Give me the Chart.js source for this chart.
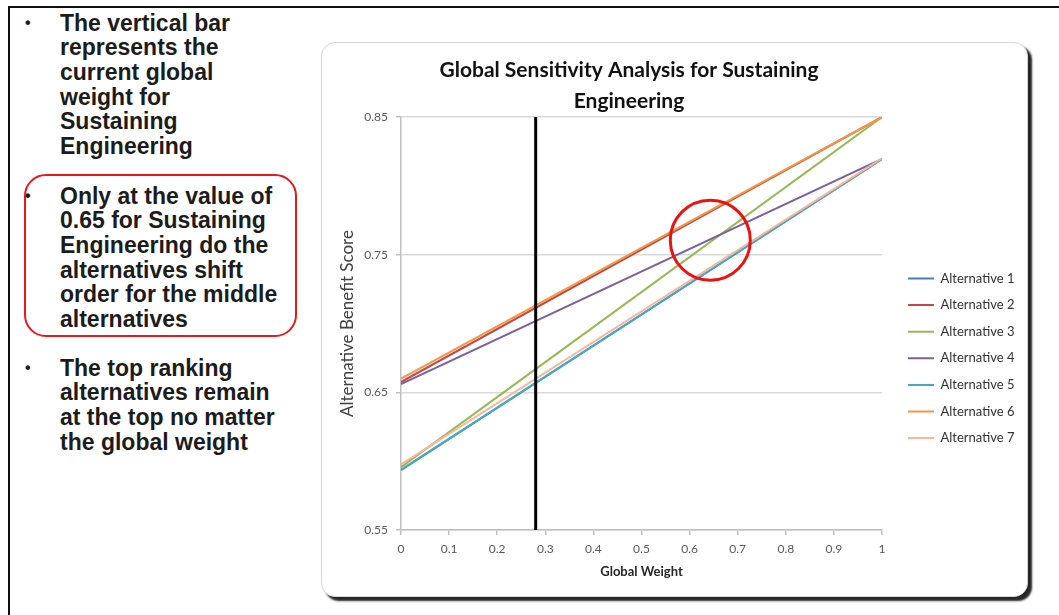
<!DOCTYPE html>
<html>
<head>
<meta charset="utf-8">
<script src="https://cdn.jsdelivr.net/npm/chart.js@4/dist/chart.umd.min.js"></script>
<style>
  html, body { margin:0; padding:0; background:#fff; width:1059px; height:615px; overflow:hidden; }
  body { position:relative; }
  .frame { position:absolute; left:8px; top:6px; width:1200px; height:800px; border-left:2px solid #111; border-top:2px solid #111; }
  .para { position:absolute; left:60px; font:bold 23px/24.7px "Liberation Sans", Arial, sans-serif; color:#1c1c1c; white-space:nowrap; }
  .bul { position:absolute; left:25px; font:bold 16px/24.7px "Liberation Sans", Arial, sans-serif; color:#1c1c1c; }
  .redbox { position:absolute; left:24px; top:174px; width:273px; height:163px; box-sizing:border-box; border:2.5px solid #e8191c; border-radius:22px; }
  .chartbox { position:absolute; left:321px; top:42px; width:707px; height:555px; box-sizing:border-box; border:1.5px solid #d6d6d6; border-radius:14px; background:#fff; box-shadow:4px 4px 2px rgba(0,0,0,0.85); }
  #c { position:absolute; left:321px; top:42px; }
</style>
</head>
<body>
<div class="frame"></div>

<div class="bul" style="top:10.6px">•</div>
<div class="para" style="top:10.6px">The vertical bar<br>represents the<br>current global<br>weight for<br>Sustaining<br>Engineering</div>

<div class="redbox"></div>
<div class="bul" style="top:183.5px">•</div>
<div class="para" style="top:183.5px">Only at the value of<br>0.65 for Sustaining<br>Engineering do the<br>alternatives shift<br>order for the middle<br>alternatives</div>

<div class="bul" style="top:355.7px">•</div>
<div class="para" style="top:355.7px">The top ranking<br>alternatives remain<br>at the top no matter<br>the global weight</div>

<div class="chartbox"></div>
<canvas id="c" width="707" height="555"></canvas>

<script>
// ---- data ----
const WEIGHTS = [0, 1];
const ALT_NAMES = ['Alternative 1', 'Alternative 2', 'Alternative 3', 'Alternative 4', 'Alternative 5', 'Alternative 6', 'Alternative 7'];
const ALT1 = [0.5935, 0.8195];
const ALT2 = [0.6575, 0.850];
const ALT3 = [0.5957, 0.850];
const ALT4 = [0.6560, 0.8195];
const ALT5 = [0.5938, 0.8195];
const ALT6 = [0.6600, 0.850];
const ALT7 = [0.5976, 0.8200];
const ALT_COLORS = ['#4a7ebb', '#be4b48', '#98b954', '#7d60a0', '#46aac5', '#f59647', '#f8b79c'];
const X_TICKS = [0, 0.1, 0.2, 0.3, 0.4, 0.5, 0.6, 0.7, 0.8, 0.9, 1];
const Y_TICKS = [0.55, 0.65, 0.75, 0.85];
const CURRENT_WEIGHT = 0.28;
const SHIFT_POINT = { x: 0.643, y: 0.7605 };
const TITLE_LINES = ['Global Sensitivity Analysis for Sustaining', 'Engineering'];
const X_TITLE = 'Global Weight';
const Y_TITLE = 'Alternative Benefit Score';

const ALT_VALUES = [ALT1, ALT2, ALT3, ALT4, ALT5, ALT6, ALT7];
const N = ALT_NAMES.length;

const datasets = ALT_NAMES.map((name, i) => ({
  label: name,
  data: WEIGHTS.map((w, j) => ({ x: w, y: ALT_VALUES[i][j] })),
  borderColor: ALT_COLORS[i],
  backgroundColor: ALT_COLORS[i],
  borderWidth: 2,
  pointRadius: 0,
  order: 20 - i
}));
datasets.push({
  label: 'Current weight',
  data: [{ x: CURRENT_WEIGHT, y: Y_TICKS[0] }, { x: CURRENT_WEIGHT, y: Y_TICKS[Y_TICKS.length - 1] }],
  borderColor: '#000', backgroundColor: '#000', borderWidth: 3, pointRadius: 0, order: 1
});
datasets.push({
  label: 'Shift',
  data: [SHIFT_POINT],
  showLine: false,
  pointRadius: 40,
  pointBorderWidth: 3,
  pointBorderColor: '#ee1111',
  pointBackgroundColor: 'rgba(0,0,0,0)',
  borderColor: '#ee1111', backgroundColor: 'rgba(0,0,0,0)',
  order: 0
});

const TITLE_CX = 308;      // title centre in canvas px
const LEGEND_GAP = 26;     // chart area -> legend line start
const LEGEND_ROW0 = 230;   // top of first legend row

const placeBlocks = {
  id: 'placeBlocks',
  afterLayout(chart) {
    const ca = chart.chartArea;
    const tb = chart.titleBlock;
    if (tb) { const w = tb.right - tb.left; tb.left = TITLE_CX - w / 2; tb.right = tb.left + w; }
    const lg = chart.legend;
    if (lg) {
      const pad = lg.options.labels.padding;
      const w = lg.width, h = lg.height;
      lg.left = ca.right + LEGEND_GAP - pad; lg.right = lg.left + w;
      lg.top = LEGEND_ROW0 - pad; lg.bottom = lg.top + h;
    }
  }
};

new Chart(document.getElementById('c'), {
  type: 'line',
  data: { datasets },
  plugins: [placeBlocks],
  options: {
    responsive: false,
    animation: false,
    events: [],
    layout: { padding: { left: 0, top: 0, right: 146, bottom: 0 } },
    plugins: {
      tooltip: { enabled: false },
      title: {
        display: true, text: TITLE_LINES, color: '#111',
        font: { family: 'Lato', weight: 'bold', size: 21, lineHeight: 1.5 },
        padding: { top: 12, bottom: 0 }
      },
      legend: {
        display: true, position: 'chartArea', align: 'start',
        labels: {
          usePointStyle: true, pointStyle: 'line', pointStyleWidth: 26, boxHeight: 13,
          padding: 13.6, color: '#333',
          font: { family: 'Lato', size: 13 },
          filter: (item) => item.datasetIndex < N,
          sort: (a, b) => a.datasetIndex - b.datasetIndex
        }
      }
    },
    scales: {
      x: {
        type: 'linear', min: 0, max: 1,
        afterBuildTicks: (s) => { s.ticks = X_TICKS.map(v => ({ value: v })); },
        afterFit: (s) => { s.height = 67; },
        ticks: { color: '#595959', font: { family: 'Lato', size: 12 }, padding: 7, maxRotation: 0,
                 callback: (v) => String(+Number(v).toFixed(1)) },
        grid: { drawOnChartArea: false, drawTicks: true, tickLength: 5, color: '#bfbfbf', lineWidth: 1.5 },
        border: { display: true, color: '#bfbfbf', width: 1.5 },
        title: { display: true, text: X_TITLE, color: '#262626',
                 font: { family: 'Lato', weight: 'bold', size: 13 }, padding: { top: 4, bottom: 17.2 } }
      },
      y: {
        type: 'linear', min: Y_TICKS[0], max: Y_TICKS[Y_TICKS.length - 1],
        afterBuildTicks: (s) => { s.ticks = Y_TICKS.map(v => ({ value: v })); },
        afterFit: (s) => { s.width = 80; },
        ticks: { color: '#595959', font: { family: 'Lato', size: 12 }, padding: 8,
                 callback: (v) => Number(v).toFixed(2) },
        grid: { drawOnChartArea: true, drawTicks: true, tickLength: 5, color: '#d9d9d9', tickColor: '#bfbfbf', lineWidth: 1.5 },
        border: { display: true, color: '#bfbfbf', width: 1.5 },
        title: { display: true, text: Y_TITLE, color: '#404040',
                 font: { family: 'Lato', size: 17 }, padding: { top: 16.8, bottom: 0 } }
      }
    }
  }
});
</script>
</body>
</html>
